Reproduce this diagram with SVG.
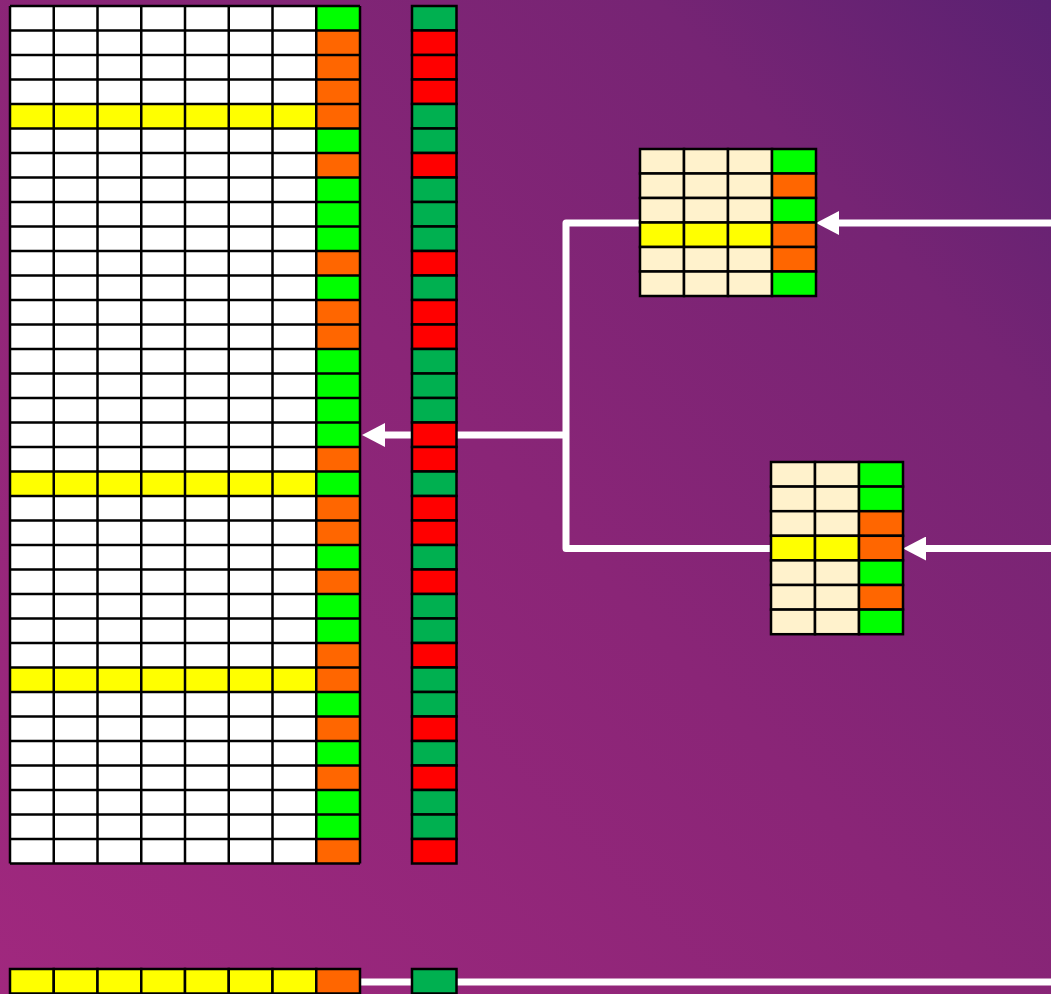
<svg xmlns="http://www.w3.org/2000/svg" width="1051" height="994" viewBox="0 0 1051 994">
<defs>
<linearGradient id="bg" gradientUnits="userSpaceOnUse" x1="0" y1="994" x2="1051" y2="0">
<stop offset="0" stop-color="#a0287e"/>
<stop offset="0.5" stop-color="#8a2577"/>
<stop offset="0.8" stop-color="#762474"/>
<stop offset="1" stop-color="#5a2172"/>
</linearGradient>
<marker id="ah" markerUnits="userSpaceOnUse" markerWidth="24" markerHeight="24" viewBox="0 0 24 24" refX="0" refY="12" orient="auto">
<path d="M0 0 L23 12 L0 24 Z" fill="#ffffff"/>
</marker>
<style>
.c rect{stroke:#000;stroke-width:2.5}
.w{fill:#ffffff}.y{fill:#ffff00}.g{fill:#00ff00}.o{fill:#ff6600}.d{fill:#00b050}.r{fill:#ff0000}.k{fill:#fff2cc}
.grid{fill:none;stroke:#000;stroke-width:2.5}
.conn{fill:none;stroke:#ffffff;stroke-width:7;stroke-linejoin:round}
</style>
</defs>
<rect x="0" y="0" width="1051" height="994" fill="url(#bg)"/>

<g id="connectors">
<path class="conn" d="M1051 223 H839" marker-end="url(#ah)"/>
<path class="conn" d="M1051 548.5 H926" marker-end="url(#ah)"/>
<path class="conn" d="M640 223 H566 V548.5 H771"/>
<path class="conn" d="M566 435 H385" marker-end="url(#ah)"/>
<path class="conn" d="M360 982 H1051"/>
</g>

<g id="main-table">
<rect class="w" x="10" y="6" width="350" height="857.5"/>
<rect class="y" x="10" y="104" width="306.25" height="24.5"/>
<rect class="y" x="10" y="471.5" width="306.25" height="24.5"/>
<rect class="y" x="10" y="667.5" width="306.25" height="24.5"/>
<g>
<rect class="g" x="316.25" y="6" width="43.75" height="24.5"/>
<rect class="o" x="316.25" y="30.5" width="43.75" height="24.5"/>
<rect class="o" x="316.25" y="55" width="43.75" height="24.5"/>
<rect class="o" x="316.25" y="79.5" width="43.75" height="24.5"/>
<rect class="o" x="316.25" y="104" width="43.75" height="24.5"/>
<rect class="g" x="316.25" y="128.5" width="43.75" height="24.5"/>
<rect class="o" x="316.25" y="153" width="43.75" height="24.5"/>
<rect class="g" x="316.25" y="177.5" width="43.75" height="24.5"/>
<rect class="g" x="316.25" y="202" width="43.75" height="24.5"/>
<rect class="g" x="316.25" y="226.5" width="43.75" height="24.5"/>
<rect class="o" x="316.25" y="251" width="43.75" height="24.5"/>
<rect class="g" x="316.25" y="275.5" width="43.75" height="24.5"/>
<rect class="o" x="316.25" y="300" width="43.75" height="24.5"/>
<rect class="o" x="316.25" y="324.5" width="43.75" height="24.5"/>
<rect class="g" x="316.25" y="349" width="43.75" height="24.5"/>
<rect class="g" x="316.25" y="373.5" width="43.75" height="24.5"/>
<rect class="g" x="316.25" y="398" width="43.75" height="24.5"/>
<rect class="g" x="316.25" y="422.5" width="43.75" height="24.5"/>
<rect class="o" x="316.25" y="447" width="43.75" height="24.5"/>
<rect class="g" x="316.25" y="471.5" width="43.75" height="24.5"/>
<rect class="o" x="316.25" y="496" width="43.75" height="24.5"/>
<rect class="o" x="316.25" y="520.5" width="43.75" height="24.5"/>
<rect class="g" x="316.25" y="545" width="43.75" height="24.5"/>
<rect class="o" x="316.25" y="569.5" width="43.75" height="24.5"/>
<rect class="g" x="316.25" y="594" width="43.75" height="24.5"/>
<rect class="g" x="316.25" y="618.5" width="43.75" height="24.5"/>
<rect class="o" x="316.25" y="643" width="43.75" height="24.5"/>
<rect class="o" x="316.25" y="667.5" width="43.75" height="24.5"/>
<rect class="g" x="316.25" y="692" width="43.75" height="24.5"/>
<rect class="o" x="316.25" y="716.5" width="43.75" height="24.5"/>
<rect class="g" x="316.25" y="741" width="43.75" height="24.5"/>
<rect class="o" x="316.25" y="765.5" width="43.75" height="24.5"/>
<rect class="g" x="316.25" y="790" width="43.75" height="24.5"/>
<rect class="g" x="316.25" y="814.5" width="43.75" height="24.5"/>
<rect class="o" x="316.25" y="839" width="43.75" height="24.5"/>
</g>
<path class="grid" d="M10 6H360M10 30.5H360M10 55H360M10 79.5H360M10 104H360M10 128.5H360M10 153H360M10 177.5H360M10 202H360M10 226.5H360M10 251H360M10 275.5H360M10 300H360M10 324.5H360M10 349H360M10 373.5H360M10 398H360M10 422.5H360M10 447H360M10 471.5H360M10 496H360M10 520.5H360M10 545H360M10 569.5H360M10 594H360M10 618.5H360M10 643H360M10 667.5H360M10 692H360M10 716.5H360M10 741H360M10 765.5H360M10 790H360M10 814.5H360M10 839H360M10 863.5H360M10 6V863.5M53.75 6V863.5M97.5 6V863.5M141.25 6V863.5M185 6V863.5M228.75 6V863.5M272.5 6V863.5M316.25 6V863.5M360 6V863.5"/>
</g>

<g id="status-column" class="c">
<rect class="d" x="412" y="6" width="44.5" height="24.5"/>
<rect class="r" x="412" y="30.5" width="44.5" height="24.5"/>
<rect class="r" x="412" y="55" width="44.5" height="24.5"/>
<rect class="r" x="412" y="79.5" width="44.5" height="24.5"/>
<rect class="d" x="412" y="104" width="44.5" height="24.5"/>
<rect class="d" x="412" y="128.5" width="44.5" height="24.5"/>
<rect class="r" x="412" y="153" width="44.5" height="24.5"/>
<rect class="d" x="412" y="177.5" width="44.5" height="24.5"/>
<rect class="d" x="412" y="202" width="44.5" height="24.5"/>
<rect class="d" x="412" y="226.5" width="44.5" height="24.5"/>
<rect class="r" x="412" y="251" width="44.5" height="24.5"/>
<rect class="d" x="412" y="275.5" width="44.5" height="24.5"/>
<rect class="r" x="412" y="300" width="44.5" height="24.5"/>
<rect class="r" x="412" y="324.5" width="44.5" height="24.5"/>
<rect class="d" x="412" y="349" width="44.5" height="24.5"/>
<rect class="d" x="412" y="373.5" width="44.5" height="24.5"/>
<rect class="d" x="412" y="398" width="44.5" height="24.5"/>
<rect class="r" x="412" y="422.5" width="44.5" height="24.5"/>
<rect class="r" x="412" y="447" width="44.5" height="24.5"/>
<rect class="d" x="412" y="471.5" width="44.5" height="24.5"/>
<rect class="r" x="412" y="496" width="44.5" height="24.5"/>
<rect class="r" x="412" y="520.5" width="44.5" height="24.5"/>
<rect class="d" x="412" y="545" width="44.5" height="24.5"/>
<rect class="r" x="412" y="569.5" width="44.5" height="24.5"/>
<rect class="d" x="412" y="594" width="44.5" height="24.5"/>
<rect class="d" x="412" y="618.5" width="44.5" height="24.5"/>
<rect class="r" x="412" y="643" width="44.5" height="24.5"/>
<rect class="d" x="412" y="667.5" width="44.5" height="24.5"/>
<rect class="d" x="412" y="692" width="44.5" height="24.5"/>
<rect class="r" x="412" y="716.5" width="44.5" height="24.5"/>
<rect class="d" x="412" y="741" width="44.5" height="24.5"/>
<rect class="r" x="412" y="765.5" width="44.5" height="24.5"/>
<rect class="d" x="412" y="790" width="44.5" height="24.5"/>
<rect class="d" x="412" y="814.5" width="44.5" height="24.5"/>
<rect class="r" x="412" y="839" width="44.5" height="24.5"/>
</g>

<g id="table-a" class="c">
<rect class="k" x="640" y="149" width="44" height="24.5"/><rect class="k" x="684" y="149" width="44" height="24.5"/><rect class="k" x="728" y="149" width="44" height="24.5"/><rect class="g" x="772" y="149" width="44" height="24.5"/>
<rect class="k" x="640" y="173.5" width="44" height="24.5"/><rect class="k" x="684" y="173.5" width="44" height="24.5"/><rect class="k" x="728" y="173.5" width="44" height="24.5"/><rect class="o" x="772" y="173.5" width="44" height="24.5"/>
<rect class="k" x="640" y="198" width="44" height="24.5"/><rect class="k" x="684" y="198" width="44" height="24.5"/><rect class="k" x="728" y="198" width="44" height="24.5"/><rect class="g" x="772" y="198" width="44" height="24.5"/>
<rect class="y" x="640" y="222.5" width="44" height="24.5"/><rect class="y" x="684" y="222.5" width="44" height="24.5"/><rect class="y" x="728" y="222.5" width="44" height="24.5"/><rect class="o" x="772" y="222.5" width="44" height="24.5"/>
<rect class="k" x="640" y="247" width="44" height="24.5"/><rect class="k" x="684" y="247" width="44" height="24.5"/><rect class="k" x="728" y="247" width="44" height="24.5"/><rect class="o" x="772" y="247" width="44" height="24.5"/>
<rect class="k" x="640" y="271.5" width="44" height="24.5"/><rect class="k" x="684" y="271.5" width="44" height="24.5"/><rect class="k" x="728" y="271.5" width="44" height="24.5"/><rect class="g" x="772" y="271.5" width="44" height="24.5"/>
</g>

<g id="table-b" class="c">
<rect class="k" x="771" y="462" width="44" height="24.6"/><rect class="k" x="815" y="462" width="44" height="24.6"/><rect class="g" x="859" y="462" width="44" height="24.6"/>
<rect class="k" x="771" y="486.6" width="44" height="24.6"/><rect class="k" x="815" y="486.6" width="44" height="24.6"/><rect class="g" x="859" y="486.6" width="44" height="24.6"/>
<rect class="k" x="771" y="511.2" width="44" height="24.6"/><rect class="k" x="815" y="511.2" width="44" height="24.6"/><rect class="o" x="859" y="511.2" width="44" height="24.6"/>
<rect class="y" x="771" y="535.8" width="44" height="24.6"/><rect class="y" x="815" y="535.8" width="44" height="24.6"/><rect class="o" x="859" y="535.8" width="44" height="24.6"/>
<rect class="k" x="771" y="560.4" width="44" height="24.6"/><rect class="k" x="815" y="560.4" width="44" height="24.6"/><rect class="g" x="859" y="560.4" width="44" height="24.6"/>
<rect class="k" x="771" y="585" width="44" height="24.6"/><rect class="k" x="815" y="585" width="44" height="24.6"/><rect class="o" x="859" y="585" width="44" height="24.6"/>
<rect class="k" x="771" y="609.6" width="44" height="24.6"/><rect class="k" x="815" y="609.6" width="44" height="24.6"/><rect class="g" x="859" y="609.6" width="44" height="24.6"/>
</g>

<g id="bottom-row" class="c">
<rect class="y" x="10" y="969" width="43.75" height="24.5"/>
<rect class="y" x="53.75" y="969" width="43.75" height="24.5"/>
<rect class="y" x="97.5" y="969" width="43.75" height="24.5"/>
<rect class="y" x="141.25" y="969" width="43.75" height="24.5"/>
<rect class="y" x="185" y="969" width="43.75" height="24.5"/>
<rect class="y" x="228.75" y="969" width="43.75" height="24.5"/>
<rect class="y" x="272.5" y="969" width="43.75" height="24.5"/>
<rect class="o" x="316.25" y="969" width="43.75" height="24.5"/>
</g>

<g id="bottom-status" class="c">
<rect class="d" x="412" y="969" width="44.5" height="24.5"/>
</g>
</svg>
